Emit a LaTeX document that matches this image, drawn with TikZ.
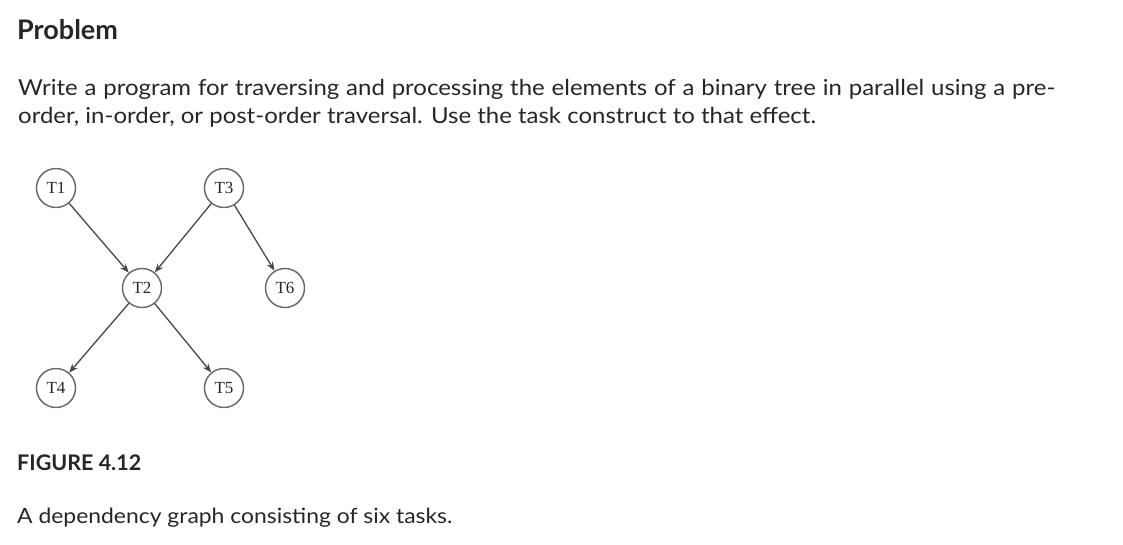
\documentclass[tikz,border=0pt]{standalone}
\usepackage{fontspec}
\setmainfont{Lato}
\newfontfamily\wide[FakeStretch=1.09]{Lato}
\newfontfamily\serifnode{Liberation Serif}
\usetikzlibrary{arrows.meta}
\begin{document}
\begin{tikzpicture}[x=1pt,y=-1pt,
  task/.style={circle,draw=black!60,line width=1.4pt,minimum size=39pt,inner sep=0pt,font=\serifnode\fontsize{17}{17}\selectfont,text=black!85},
  dep/.style={draw=black!72,line width=1.3pt,-{Stealth[length=9pt,width=7pt]}},
  txt/.style={anchor=base west,inner sep=0pt,text=black!85}]
\useasboundingbox (0,0) rectangle (1123,544);
\node[txt,font=\bfseries\fontsize{27}{27}\selectfont] (title) at (17,39) {Problem};
\node[txt,font=\wide\fontsize{22}{22}\selectfont] (l1) at (18,95) {\makebox[1037pt][s]{Write a program for traversing and processing the elements of a binary tree in parallel using a pre-}};
\node[txt,font=\wide\fontsize{22}{22}\selectfont] (l2) at (18,123) {order, in-order, or post-order traversal. Use the task construct to that effect.};
\node[task] (T1) at (56,188) {T1};
\node[task] (T3) at (224,188) {T3};
\node[task] (T2) at (142,288) {T2};
\node[task] (T6) at (285,288) {T6};
\node[task] (T4) at (56,388) {T4};
\node[task] (T5) at (224,388) {T5};
\draw[dep] (T1) -- (T2);
\draw[dep] (T3) -- (T2);
\draw[dep] (T3) -- (T6);
\draw[dep] (T2) -- (T4);
\draw[dep] (T2) -- (T5);
\node[txt,font=\bfseries\fontsize{21.5}{21.5}\selectfont] (fig) at (17,470) {FIGURE 4.12};
\node[txt,font=\wide\fontsize{21}{21}\selectfont] (cap) at (17,523) {A dependency graph consisting of six tasks.};
\end{tikzpicture}
\end{document}
